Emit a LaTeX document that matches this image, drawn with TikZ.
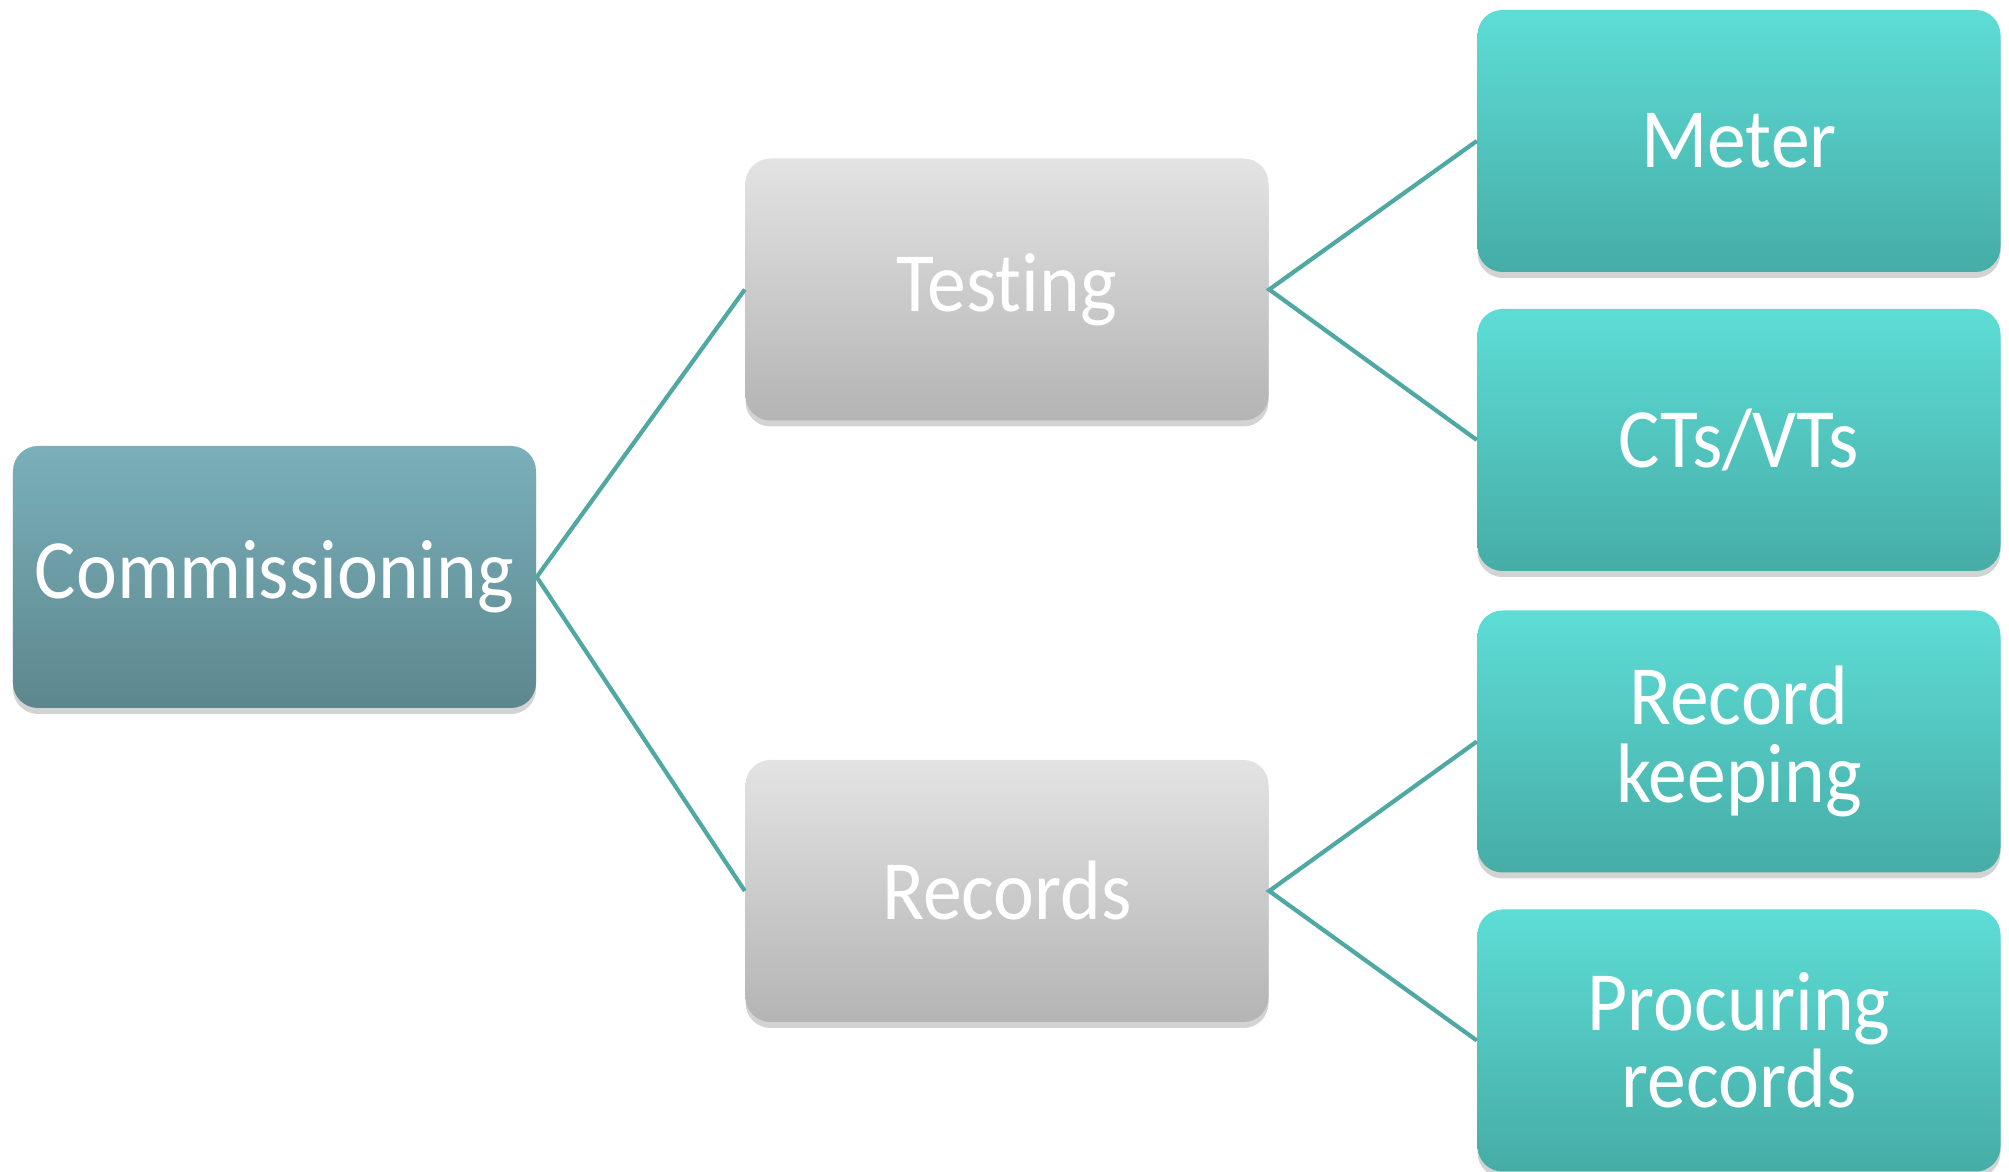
\documentclass[tikz,border=0pt]{standalone}
\usepackage{fontspec}
\setmainfont[FakeStretch=0.92, Ligatures={NoCommon, NoDiscretionary, NoRequired}, Contextuals=NoAlternate]{Carlito}
\usepackage{tikz}
\usetikzlibrary{shadows}

\definecolor{linkcol}{HTML}{4FA8A2}

\tikzset{
	box/.style={rounded corners=0.25cm, minimum width=5.23cm, minimum height=2.62cm, inner sep=0pt,
		align=center, text=white, font=\fontsize{24}{22}\selectfont,
		drop shadow={shadow xshift=0pt, shadow yshift=-0.06cm, opacity=0.35}},
	rootbox/.style={box, top color=rootTop, bottom color=rootBot},
	midbox/.style={box, top color=grayTop, bottom color=grayBot},
	leafbox/.style={box, top color=leafTop, bottom color=leafBot},
	link/.style={linkcol, line width=1.2pt}
}
\definecolor{rootTop}{HTML}{7AB0BA}
\definecolor{rootBot}{HTML}{5D878E}
\definecolor{grayTop}{HTML}{E3E3E3}
\definecolor{grayBot}{HTML}{B4B4B4}
\definecolor{leafTop}{HTML}{5DDDD6}
\definecolor{leafBot}{HTML}{46ACA6}

\begin{document}
\begin{tikzpicture}
			\useasboundingbox (0, 0) rectangle (20.09, 11.72);
			
			\node[rootbox] (c) at (2.745, 5.95) {Commissioning};
			\node[midbox] (t) at (10.07, 8.825) {Testing};
			\node[midbox] (r) at (10.07, 2.81) {Records};
			\node[leafbox] (t1) at (17.39, 10.31) {Meter};
			\node[leafbox] (t2) at (17.39, 7.32) {CTs/VTs};
			\node[leafbox] (r1) at (17.39, 4.305) {Record\\keeping};
			\node[leafbox] (r2) at (17.39, 1.315) {Procuring\\records};
			
			\draw[link] (t.west) -- (c.east) -- (r.west);
			\draw[link] (t1.west) -- (t.east) -- (t2.west);
			\draw[link] (r1.west) -- (r.east) -- (r2.west);
		\end{tikzpicture}
\end{document}
